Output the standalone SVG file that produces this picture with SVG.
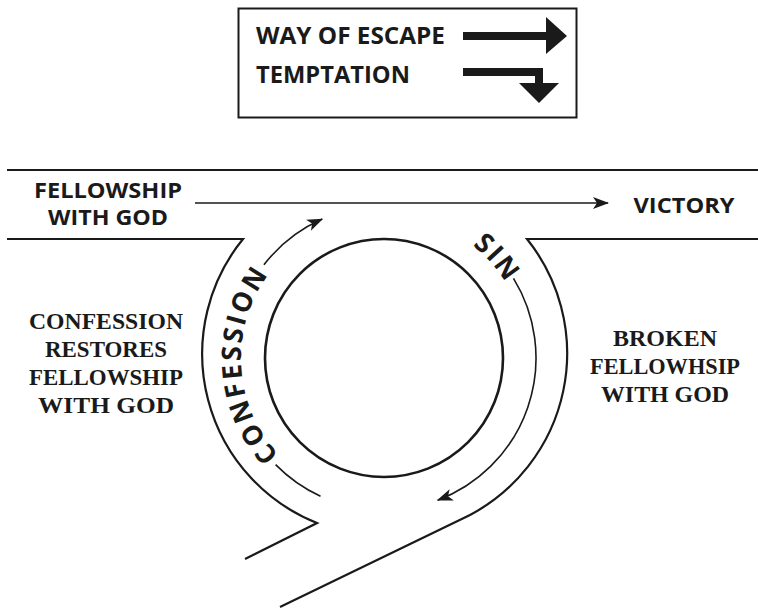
<svg xmlns="http://www.w3.org/2000/svg" width="758" height="609" viewBox="0 0 758 609">
<style>
.road{fill:none;stroke:#1a1a1a;stroke-width:2.2}
.arr{fill:none;stroke:#1a1a1a;stroke-width:1.6}
.sans{font-family:"Open Sans","Liberation Sans",sans-serif;font-weight:700;fill:#1a1a1a}
.serif{font-family:"Liberation Serif","DejaVu Serif",serif;font-weight:700;fill:#1a1a1a;font-size:23px;text-anchor:middle}
</style>
<defs>
<marker id="ah" markerUnits="userSpaceOnUse" markerWidth="20" markerHeight="14" viewBox="-17 -7 20 14" refX="0" refY="0" orient="auto">
<path d="M1,0 L-15,-6 L-11,0 L-15,6 Z" fill="#1a1a1a"/>
</marker>
<path id="pConf" d="M319.5,484.5 A141,141 0 0 1 306.6,238.9"/>
<path id="pSin" d="M355.7,218.8 A141,141 0 0 1 518.7,403.1"/>
</defs>
<rect width="758" height="609" fill="#fff"/>

<g id="legend">
<rect x="238.5" y="8.5" width="338" height="109" fill="none" stroke="#1a1a1a" stroke-width="2"/>
<text class="sans" x="256" y="44" font-size="24" textLength="189" lengthAdjust="spacingAndGlyphs">WAY OF ESCAPE</text>
<text class="sans" x="256" y="83" font-size="24" textLength="154" lengthAdjust="spacingAndGlyphs">TEMPTATION</text>
<rect x="463" y="32" width="84" height="8" fill="#1a1a1a"/>
<polygon points="546,17 567,36 546,54" fill="#1a1a1a"/>
<rect x="463" y="68" width="80" height="8" fill="#1a1a1a"/>
<rect x="535" y="68" width="8" height="16" fill="#1a1a1a"/>
<polygon points="519,83 559,83 539,103" fill="#1a1a1a"/>
</g>

<g id="road">
<path class="road" d="M7,170 L758,170"/>
<path class="road" d="M7,239 L243,239 A182,182 0 0 0 317,523 L245,559"/>
<path class="road" d="M758,239 L527,239 A183,183 0 0 1 470,515 L280,607"/>
</g>

<g id="circle">
<circle cx="384" cy="358" r="119" fill="none" stroke="#1a1a1a" stroke-width="2.6"/>
</g>

<g id="fellowship">
<text class="sans" x="108" y="198" font-size="21" text-anchor="middle" textLength="148" lengthAdjust="spacingAndGlyphs">FELLOWSHIP</text>
<text class="sans" x="108" y="225" font-size="21" text-anchor="middle" textLength="120" lengthAdjust="spacingAndGlyphs">WITH GOD</text>
</g>

<g id="victory">
<text class="sans" x="684" y="213" font-size="21" text-anchor="middle" textLength="101" lengthAdjust="spacingAndGlyphs">VICTORY</text>
</g>

<g id="confession-label">
<text class="sans" font-size="27" letter-spacing="2.5"><textPath href="#pConf" startOffset="50%" text-anchor="middle">CONFESSION</textPath></text>
</g>

<g id="sin-label">
<text class="sans" font-size="27" letter-spacing="2"><textPath href="#pSin" startOffset="50%" text-anchor="middle">SIN</textPath></text>
</g>

<g id="confession-restores">
<text class="serif" x="106" y="329" textLength="154" lengthAdjust="spacingAndGlyphs">CONFESSION</text>
<text class="serif" x="106" y="357" textLength="122" lengthAdjust="spacingAndGlyphs">RESTORES</text>
<text class="serif" x="106" y="385" textLength="154" lengthAdjust="spacingAndGlyphs">FELLOWSHIP</text>
<text class="serif" x="106" y="413" textLength="136" lengthAdjust="spacingAndGlyphs">WITH GOD</text>
</g>

<g id="broken-fellowship">
<text class="serif" x="665" y="346" textLength="104" lengthAdjust="spacingAndGlyphs">BROKEN</text>
<text class="serif" x="665" y="374" textLength="150" lengthAdjust="spacingAndGlyphs">FELLOWHSIP</text>
<text class="serif" x="665" y="402" textLength="128" lengthAdjust="spacingAndGlyphs">WITH GOD</text>
</g>

<g id="connectors">
<path class="arr" d="M195,203 L608,203" marker-end="url(#ah)"/>
<path class="arr" d="M320.5,496.2 A152,152 0 0 1 275.6,464.6"/>
<path class="arr" d="M263.9,264.8 A152,152 0 0 1 322.2,219.1" marker-end="url(#ah)"/>
<path class="arr" d="M513.5,278.4 A152,152 0 0 1 437.7,500.2" marker-end="url(#ah)"/>
</g>
</svg>
